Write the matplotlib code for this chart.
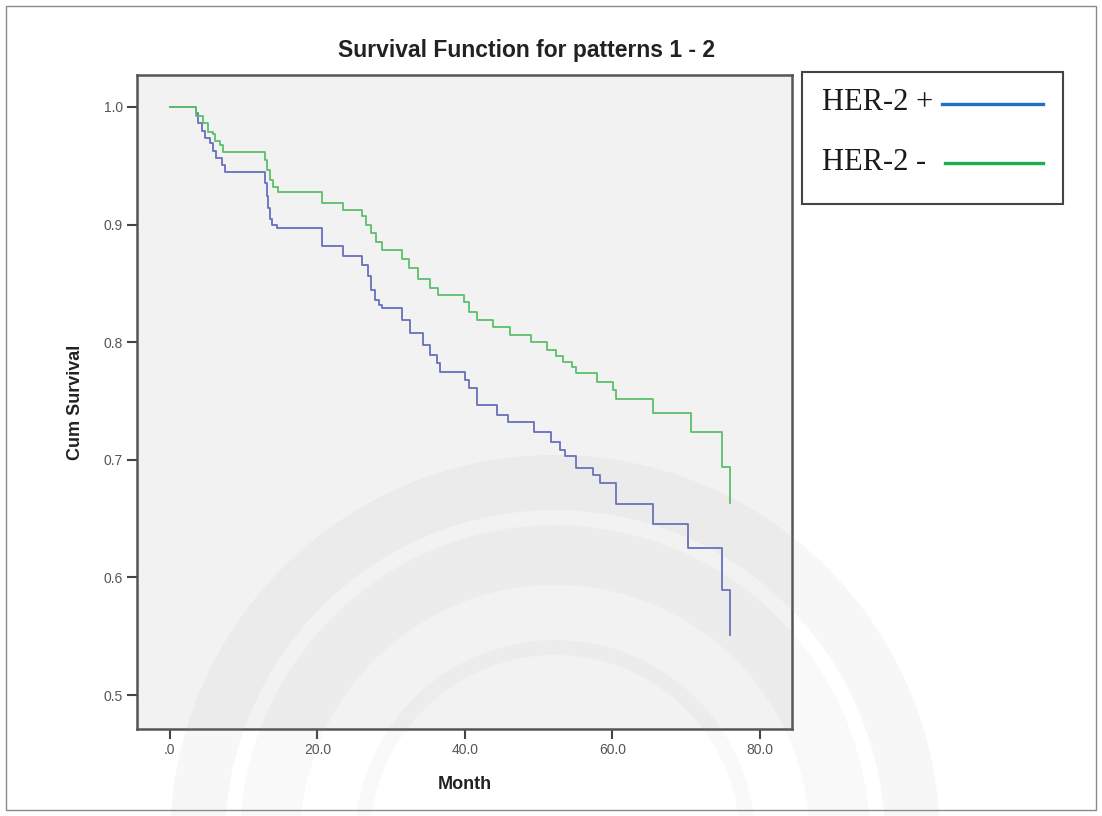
import matplotlib
matplotlib.use("Agg")
import matplotlib.pyplot as plt
from matplotlib.patches import Rectangle, Wedge
from matplotlib.lines import Line2D
from matplotlib.ticker import FuncFormatter

plt.rcParams['font.family'] = ['Liberation Sans', 'DejaVu Sans']

# Kaplan-Meier estimates (month, cumulative survival), step changes
her2_pos_month = [0.0, 3.5, 3.8, 4.3, 4.8, 5.4, 5.8, 6.3, 7.0, 7.4,
                  12.9, 13.1, 13.3, 13.6, 13.8, 14.5,
                  20.6, 23.4, 26.0, 26.9, 27.3, 27.8, 28.3, 28.7,
                  31.4, 32.5, 34.3, 35.3, 36.2, 36.6,
                  40.0, 40.6, 41.6, 44.3, 45.8, 49.3, 51.6, 52.9, 53.5, 55.1,
                  57.4, 58.3, 60.5, 65.5, 70.3, 74.9, 76.0]
her2_pos_surv = [1.000, 0.995, 0.986, 0.980, 0.974, 0.969, 0.963, 0.957, 0.951, 0.945,
                 0.935, 0.924, 0.914, 0.905, 0.900, 0.897,
                 0.882, 0.873, 0.866, 0.856, 0.844, 0.836, 0.832, 0.829,
                 0.819, 0.808, 0.798, 0.789, 0.782, 0.775,
                 0.768, 0.761, 0.747, 0.738, 0.732, 0.724, 0.715, 0.708, 0.703, 0.693,
                 0.687, 0.680, 0.662, 0.645, 0.625, 0.589, 0.551]

her2_neg_month = [0.0, 3.5, 4.5, 5.2, 5.8, 6.1, 6.8, 7.2,
                  12.9, 13.2, 13.6, 14.0, 14.6,
                  20.6, 23.5, 26.0, 26.6, 27.2, 27.9, 28.7,
                  31.4, 32.4, 33.6, 35.3, 36.4,
                  39.8, 40.6, 41.6, 43.8, 46.1, 48.9, 51.1, 52.3, 53.3, 54.5, 55.1,
                  57.9, 60.1, 60.5, 65.5, 70.6, 74.8, 76.0]
her2_neg_surv = [1.000, 0.992, 0.986, 0.979, 0.977, 0.971, 0.968, 0.962,
                 0.955, 0.946, 0.938, 0.932, 0.928,
                 0.918, 0.912, 0.907, 0.900, 0.893, 0.885, 0.878,
                 0.871, 0.863, 0.854, 0.846, 0.840,
                 0.834, 0.826, 0.819, 0.813, 0.806, 0.800, 0.793, 0.788, 0.783, 0.779, 0.774,
                 0.766, 0.759, 0.752, 0.740, 0.724, 0.694, 0.663]

x_ticks = [0, 20, 40, 60, 80]
y_ticks = [0.5, 0.6, 0.7, 0.8, 0.9, 1.0]
legend_labels = ["HER-2 +", "HER-2 -"]

W, H = 1102, 816
fig = plt.figure(figsize=(W / 100, H / 100), dpi=100)


def fx(px):
    return px / W


def fy(py):
    return 1 - py / H


# faint seal watermark behind everything
for r0, r1, a in [(330, 385, 0.08), (255, 315, 0.06), (185, 200, 0.06)]:
    fig.patches.append(Wedge((555, H - 840), r1, 0, 180, width=r1 - r0,
                             transform=None, facecolor='#9a9a9a', alpha=a,
                             edgecolor='none', zorder=0))

ax = fig.add_axes([fx(137), fy(729), fx(792) - fx(137), fy(75) - fy(729)])
ax.set_facecolor('#f0f0f0')
ax.patch.set_alpha(0.85)

ax.plot(her2_pos_month, her2_pos_surv, drawstyle='steps-post', color='#6670bb', lw=1.3, zorder=3)
ax.plot(her2_neg_month, her2_neg_surv, drawstyle='steps-post', color='#5cbf6a', lw=1.3, zorder=3)

ax.set_xlim(-4.47, 84.34)
ax.set_ylim(0.4711, 1.0272)
ax.set_xticks(x_ticks)
ax.set_yticks(y_ticks)
ax.xaxis.set_major_formatter(FuncFormatter(lambda v, p: '.0' if v == 0 else '%.1f' % v))
ax.yaxis.set_major_formatter(FuncFormatter(lambda v, p: '%.1f' % v))
ax.tick_params(direction='out', length=7, width=1.5, color='#444444',
               labelsize=10, labelcolor='#555555', pad=3)
for s in ax.spines.values():
    s.set_color('#555555')
    s.set_linewidth(1.8)

fig.text(fx(526), fy(50), 'Survival Function for patterns 1 - 2', fontsize=16.5,
         fontweight='bold', color='#222222', ha='center', va='center')
ax.set_xlabel('Month', fontsize=13, fontweight='bold', color='#222222', labelpad=14)
ax.set_ylabel('Cum Survival', fontsize=13, fontweight='bold', color='#222222', labelpad=14)

# legend box drawn at the right of the plot
fig.patches.append(Rectangle((fx(802), fy(204)), fx(1063) - fx(802), fy(72) - fy(204),
                             transform=fig.transFigure, facecolor='white',
                             edgecolor='#444444', lw=1.5))
leg_colors = ['#1f6fc4', '#1fae4e']
leg_y = [103, 162]
leg_x0 = [942, 945]
for lab, col, yy, x0 in zip(legend_labels, leg_colors, leg_y, leg_x0):
    fig.text(fx(822), fy(yy), lab, family=['Liberation Serif', 'DejaVu Serif'],
             fontsize=22, color='#1a1a1a', va='center', ha='left')
    fig.add_artist(Line2D([fx(x0), fx(1043)], [fy(yy + 1), fy(yy + 1)],
                          transform=fig.transFigure, color=col, lw=2.4))

# thin outer border
fig.patches.append(Rectangle((fx(6), fy(810)), fx(1096) - fx(6), fy(6) - fy(810),
                             transform=fig.transFigure, facecolor='none',
                             edgecolor='#8a8a8a', lw=1.0))

fig.savefig('out.png', dpi=100)
